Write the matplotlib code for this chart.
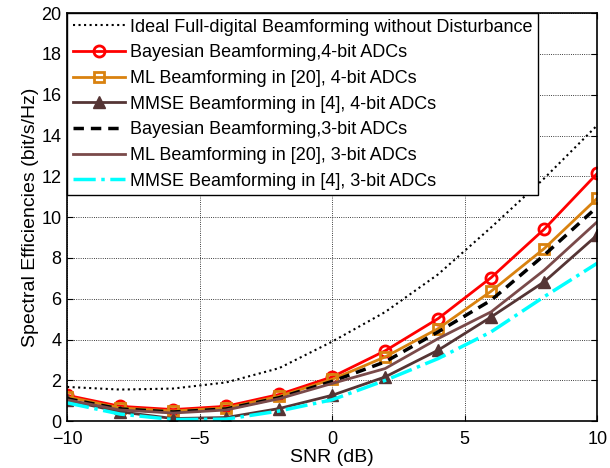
import matplotlib
matplotlib.use('Agg')
import matplotlib.pyplot as plt

plt.rcParams['font.family'] = ['Liberation Sans', 'DejaVu Sans']

snr = [-10, -8, -6, -4, -2, 0, 2, 4, 6, 8, 10]

ideal = [1.68, 1.55, 1.6, 1.9, 2.6, 3.9, 5.35, 7.2, 9.5, 11.9, 14.5]
bayes4 = [1.27, 0.73, 0.57, 0.73, 1.31, 2.17, 3.45, 5.03, 7.04, 9.41, 12.14]
ml4 = [1.2, 0.65, 0.5, 0.65, 1.22, 2.05, 3.15, 4.54, 6.37, 8.46, 10.92]
mmse4 = [1.03, 0.46, 0.13, 0.18, 0.62, 1.27, 2.17, 3.48, 5.11, 6.83, 9.12]
bayes3 = [1.1, 0.6, 0.45, 0.6, 1.15, 1.95, 2.91, 4.38, 5.93, 8.14, 10.5]
ml3 = [1.05, 0.55, 0.4, 0.55, 1.1, 1.85, 2.58, 4.05, 5.36, 7.4, 9.77]
mmse3 = [0.9, 0.35, 0.08, 0.1, 0.5, 1.05, 2.0, 3.07, 4.38, 6.1, 7.74]

RED = '#ff0000'
ORANGE = '#d9820f'
DARK_BROWN = '#553535'
BROWN = '#7a4a4a'
CYAN = '#00ffff'

fig = plt.figure(figsize=(6.1, 4.68), dpi=100)
ax = fig.add_axes([0.110, 0.100, 0.869, 0.872])

ax.plot(snr, ideal, color='black', linestyle=':', linewidth=1.5,
        label='Ideal Full-digital Beamforming without Disturbance')
ax.plot(snr, bayes4, color=RED, linewidth=2, marker='o', markersize=8,
        markerfacecolor='none', markeredgewidth=2,
        label='Bayesian Beamforming,4-bit ADCs')
ax.plot(snr, ml4, color=ORANGE, linewidth=2, marker='s', markersize=7,
        markerfacecolor='none', markeredgewidth=2,
        label='ML Beamforming in [20], 4-bit ADCs')
ax.plot(snr, mmse4, color=DARK_BROWN, linewidth=2, marker='^', markersize=9,
        label='MMSE Beamforming in [4], 4-bit ADCs')
ax.plot(snr, bayes3, color='black', linestyle='--', linewidth=2.5,
        dashes=(3, 2), label='Bayesian Beamforming,3-bit ADCs')
ax.plot(snr, ml3, color=BROWN, linewidth=2,
        label='ML Beamforming in [20], 3-bit ADCs')
ax.plot(snr, mmse3, color=CYAN, linestyle='-.', linewidth=2.5,
        label='MMSE Beamforming in [4], 3-bit ADCs')

ax.set_xlim(-10, 10)
ax.set_ylim(0, 20)
ax.set_xticks([-10, -5, 0, 5, 10])
ax.set_yticks(range(0, 21, 2))
ax.grid(True, color='black', linestyle=':', linewidth=0.6)
ax.tick_params(direction='in', top=True, right=True, labelsize=13, length=4)
ax.tick_params(axis='x', pad=7)
ax.tick_params(axis='y', pad=4)
for s in ax.spines.values():
    s.set_linewidth(1.2)

ax.set_xlabel('SNR (dB)', fontsize=14, labelpad=1)
ax.set_ylabel('Spectral Efficiencies (bit/s/Hz)', fontsize=14, labelpad=2)

leg = ax.legend(loc='upper left', fontsize=13, handlelength=2.9,
                labelspacing=0.48, borderaxespad=0.0, borderpad=0.3,
                handletextpad=0.3, fancybox=False, framealpha=1)
leg.get_frame().set_edgecolor('black')
leg.get_frame().set_linewidth(1.0)

fig.savefig('out.png', dpi=100)
